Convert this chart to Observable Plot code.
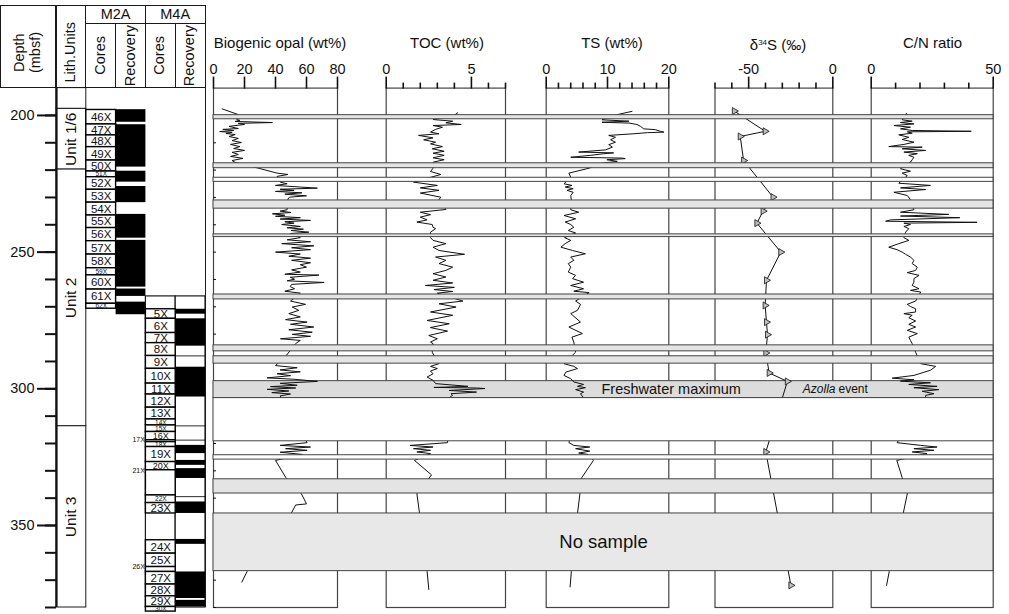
<!DOCTYPE html>
<html><head><meta charset="utf-8">
<script src="https://cdn.jsdelivr.net/npm/d3@7"></script>
<script src="https://cdn.jsdelivr.net/npm/@observablehq/plot@0.6"></script>
<style>
body{margin:0;background:#fff;font-family:"Liberation Sans",Arial,Helvetica,sans-serif;}
#chart{position:relative;width:1009px;height:614px;overflow:hidden;background:#fff;}
#chart svg{position:absolute;left:0;top:0;}
.ln{position:absolute;background:#1a1a1a;}
.hd{position:absolute;box-sizing:border-box;display:flex;align-items:center;justify-content:center;font-size:14.5px;color:#111;}
.vt{writing-mode:vertical-rl;transform:rotate(180deg);line-height:1.1;text-align:center;white-space:nowrap;}
.title{position:absolute;top:34px;line-height:17px;font-size:15px;white-space:nowrap;transform:translateX(-50%);color:#111;}
</style></head>
<body><div id="chart"></div>
<script>
// ---------------- DATA ----------------
const depthDomain = [190, 380];
const depthMajorTicks = [200, 250, 300, 350];
const depthMinorTicks = [200,210,220,230,240,250,260,270,280,290,300,310,320,330,340,350,360,370,380];

// Lithologic units
const unitNames   = ["", "Unit 1/6", "Unit 2", "Unit 3"];
const unitTops    = [190, 197.6, 219.8, 313.7];
const unitBottoms = [197.6, 219.8, 313.7, 380];

// Hole M2A
const m2aCores = ["46X","47X","48X","49X","50X","51X","52X","53X","54X","55X","56X","57X","58X","59X","60X","61X","62X"];
const m2aCoreTops    = [198.0,203.3,207.3,211.6,216.5,220.5,222.6,227.2,231.9,236.6,241.2,246.0,250.9,255.9,258.5,263.7,268.9];
const m2aCoreBottoms = [203.3,207.3,211.6,216.5,220.5,222.6,227.2,231.9,236.6,241.2,246.0,250.9,255.9,258.5,263.7,268.9,270.7];
const m2aRecTops    = [197.9,203.4,220.4,226.0,236.2,245.7,263.5,268.3];
const m2aRecBottoms = [202.5,218.9,224.4,231.9,244.9,262.8,266.2,272.9];

// Hole M4A
const m4aHoleTop = 266.2;
const m4aCores = ["5X","6X","7X","8X","9X","10X","11X","12X","13X","14X","15X","16X","17X","18X","19X","20X","21X","22X","23X","24X","25X","26X","27X","28X","29X","30X"];
const m4aCoreTops    = [270.9,274.4,279.6,283.3,288.0,292.7,298.1,302.1,306.9,311.2,313.4,315.8,318.8,319.5,321.3,326.8,329.8,339.0,341.8,355.4,360.3,365.2,367.0,371.6,375.9,379.8];
const m4aCoreBottoms = [274.4,279.6,283.3,288.0,292.7,298.1,302.1,306.9,311.2,313.4,315.8,318.8,319.5,321.3,326.8,329.8,339.0,341.8,345.6,360.3,365.2,367.0,371.6,375.9,379.8,381.5];
const sideLabelCores = ["17X","21X","26X"];
const m4aRecTops    = [270.9,274.4,288.0,292.1,313.6,318.8,320.7,326.2,329.2,339.5,341.4,355.1,367.0,377.4];
const m4aRecBottoms = [272.7,284.4,288.3,303.0,313.9,319.1,323.7,328.0,332.8,339.8,345.6,356.9,376.7,379.8];

// Biogenic opal (wt%)
const opalDepth = [197.6,199.7,
 201.5,201.8,202.2,202.6,202.9,203.3,204.0,204.8,205.1,205.5,205.9,206.2,206.6,207.0,207.7,208.4,209.2,209.9,210.6,211.4,212.1,212.8,213.5,214.3,215.0,215.7,216.5,217.2,
 219.3,221.1,221.6,222.3,
 224.4,225.0,225.6,226.2,226.6,227.0,227.4,227.8,228.3,228.8,229.4,229.9,230.6,
 234.5,235.0,235.5,236.0,236.5,236.9,237.4,237.9,238.4,238.9,239.4,239.9,240.6,241.1,241.6,242.1,242.7,243.2,
 244.7,245.5,246.2,246.9,247.7,248.4,249.1,250.0,250.7,251.5,252.2,253.0,253.9,254.6,255.5,256.5,257.3,258.1,258.4,259.2,259.9,260.5,261.1,261.8,262.6,263.4,264.3,265.0,
 267.9,269.1,270.1,271.3,272.5,273.7,274.7,275.6,276.4,277.4,278.4,279.3,280.1,280.8,281.7,282.3,283.5,
 287.8,
 291.5,292.3,293.1,293.8,294.5,295.2,296.0,296.5,297.3,298.0,298.7,299.2,299.7,300.2,300.8,301.4,301.9,302.6,
 319.7,320.7,321.3,321.9,322.5,323.2,324.0,
 326.2,332.5,
 338.4,342.1,342.5,345.7,
 366.8,370.7];
const opalValue = [5.6,16,
 15,17,14,38,16,20,10,16,6,13,4,12,8,14,10,16,12,18,11,17,13,20,12,16,11,19,12,14,
 29,41,48,41,
 43,47.5,40,56,67,43,52,40,57,46,60,49,48,
 47.5,43,50,38,46,40,56,43,62.6,46,52,44,56,47.5,58,50,61.5,49.5,
 56,47.5,62.6,44,64.7,50.4,62.6,40,56,48.6,62.6,50.4,62.6,56,60,50.4,56,46,68,49.5,52.3,47.5,71.4,50.4,49.5,52.3,46,56,
 49.7,59.4,50.8,55,48.6,56,46.5,60.4,49.7,64.7,48.6,63.7,50.8,62.6,43.2,56,52.9,
 47,
 40,54,43,56,41,49.7,34.6,52,67,43,54,36.8,53,34.6,48.6,37.6,49.7,43,
 60.4,43,62.6,46.5,60.4,43,57.3,
 40,46.7,
 56.7,60,53,50,
 21.7,18.3];

// TOC (wt%)
const tocDepth = [199.0,199.9,
 201.5,202.1,202.7,203.3,203.7,204.3,205.1,206.1,206.7,207.3,208.2,208.9,209.8,210.4,211.4,212.2,213.1,213.8,214.6,215.5,216.2,217.1,
 219.3,220.5,221.6,222.3,
 224.4,225.6,226.5,227.4,228.4,229.9,230.8,
 234.4,235.4,236.3,237.2,238.2,239.0,239.9,240.9,241.4,242.7,
 244.7,245.7,246.9,248.2,249.4,250.8,251.8,253.0,254.2,255.5,256.7,257.9,259.1,260.3,261.3,262.2,262.9,263.7,264.4,265.0,
 267.9,268.9,270.1,271.9,273.1,275.0,276.2,277.6,278.9,280.5,281.7,282.9,283.5,
 286.6,
 290.8,291.8,292.6,293.5,294.5,295.7,296.9,298.1,299.1,299.5,299.7,299.9,300.6,301.2,301.8,302.4,303.0,
 319.7,320.7,321.3,321.9,322.5,323.1,323.7,
 326.2,331.5,
 338.4,345.7,
 366.8,373.4];
const tocValue = [4.2,4.0,
 2.75,3.9,3.5,4.4,2.75,3.3,2.9,2.6,3.1,1.9,2.75,2.2,2.9,2.6,3.3,2.7,3.4,2.75,3.4,2.75,3.4,2.75,
 2.75,2.6,3.2,2.8,
 1.6,3.0,2.0,3.1,2.0,3.2,3.1,
 3.5,2.0,2.6,2.0,2.4,1.8,2.7,2.75,2.9,2.6,
 2.6,2.75,3.5,2.75,3.1,4.6,2.9,3.5,3.1,3.9,3.5,2.75,3.5,2.75,3.9,2.3,4.0,2.8,3.9,3.0,
 4.5,3.1,4.1,2.6,3.9,2.4,3.7,2.6,3.6,2.5,3.0,2.6,2.75,
 2.7,
 3.1,2.6,3.0,2.6,2.75,2.4,2.75,2.9,4.8,2.8,5.3,5.8,3.7,5.3,3.8,3.9,3.75,
 3.6,1.4,2.75,1.6,2.6,1.8,2.6,
 1.66,2.66,
 1.8,1.96,
 2.4,2.5];

// TS (wt%)
const tsDepth = [198.5,199.7,
 201.6,202.1,202.5,202.8,203.3,204.0,204.9,205.2,205.8,206.1,206.3,206.7,207.3,208.0,208.9,209.8,210.7,211.6,212.6,213.4,213.7,214.0,214.6,215.3,215.6,215.8,216.2,216.8,217.5,
 219.3,221.1,222.6,
 225.0,225.6,226.2,226.8,227.4,228.1,229.3,230.8,
 234.5,235.4,236.6,237.8,239.0,239.9,240.9,242.1,243.0,
 244.7,245.7,246.9,248.2,249.4,250.6,251.8,253.0,254.2,255.5,257.3,258.5,259.7,261.0,262.2,263.4,264.3,264.8,
 267.9,269.1,271.3,272.5,275.6,277.4,279.8,281.1,282.9,
 286.6,
 290.8,291.8,292.6,293.9,295.1,296.3,297.5,298.4,299.1,299.6,300.3,301.2,301.8,303.0,
 319.7,320.7,321.3,321.9,322.8,323.5,324.0,
 326.2,332.5,
 338.4,345.7,
 366.8,372.5];
const tsValue = [14.0,11.6,
 9.1,13.5,9.1,13.5,14.8,15.4,15.9,17.8,18.6,19.2,16.5,14.3,10.2,11.3,10.5,11.3,10.2,10.8,9.7,5.3,11.0,9.4,7.2,4.0,12.4,12.9,9.9,11.6,9.0,
 7.0,3.7,4.0,
 2.9,4.2,3.1,4.4,3.4,4.4,4.0,4.1,
 4.0,5.3,2.9,4.8,3.1,4.0,4.5,3.6,4.8,
 3.0,4.0,3.1,2.4,4.3,6.4,4.0,4.5,3.6,4.0,3.6,4.8,4.3,6.1,4.0,6.1,4.5,7.0,
 4.8,5.6,5.1,4.0,5.6,3.7,5.9,4.2,4.5,
 4.8,
 2.9,4.5,5.1,3.2,2.9,4.0,4.5,6.1,5.1,6.4,4.8,6.1,5.6,6.0,
 3.7,4.5,7.1,4.8,7.1,5.3,6.8,
 7.7,5.8,
 5.5,5.1,
 4.1,3.9];

// delta 34S (permil)
const d34sDepth = [198.4,205.8,207.7,216.5,229.9,235.0,239.4,250.0,260.3,269.5,275.6,280.2,286.9,294.2,297.3,323.1,371.9];
const d34sValue = [-58.5,-40.2,-55.0,-53.0,-35.5,-41.4,-45.1,-30.9,-39.4,-40.2,-39.4,-38.8,-39.8,-37.8,-27.0,-39.8,-24.9];

// C/N ratio
const cnDepth = [199.2,
 201.6,202.1,202.6,203.1,203.7,204.3,204.9,205.5,205.8,206.0,206.5,207.1,208.0,208.8,209.8,210.6,211.4,211.6,212.2,212.8,213.4,214.0,214.6,215.3,216.2,217.1,
 219.5,220.4,221.1,222.0,
 224.8,225.6,226.5,227.1,228.1,229.3,230.8,
 234.5,235.4,236.2,236.8,237.4,238.2,238.7,239.1,239.4,239.9,240.6,241.4,242.7,
 244.7,245.7,246.9,248.2,249.1,250.0,250.8,251.8,253.0,254.2,255.5,256.7,257.5,258.5,259.7,261.0,262.2,263.4,264.0,264.6,
 267.9,269.1,269.9,270.7,271.9,272.5,273.1,274.0,275.2,276.4,277.4,278.6,279.8,281.1,282.3,283.5,
 286.6,
 290.8,291.8,293.2,295.1,296.1,296.7,297.2,297.8,298.4,299.1,299.6,300.3,300.9,301.8,302.4,303.0,
 319.7,320.7,321.3,321.9,322.5,323.1,323.7,
 326.2,332.5,
 338.4,345.7,
 366.8,371.9];
const cnValue = [14.5,
 12.7,16.8,12.0,17.5,9.3,16.1,12.0,16.8,41.0,14.8,16.8,11.3,15.4,12.7,17.5,13.4,7.2,20.9,12.7,22.3,13.4,18.9,15.4,17.5,16.8,16.1,
 12.0,16.1,12.7,14.8,
 11.3,24.3,12.0,22.3,9.3,14.8,16.1,
 17.5,12.0,31.8,12.0,36.3,7.9,5.9,43.4,13.4,16.1,13.4,15.4,14.1,
 13.4,15.4,11.3,7.2,10.6,12.7,14.1,16.1,17.5,16.8,18.9,18.2,14.8,19.6,17.5,17.5,16.8,19.6,16.1,20.3,
 18.2,14.8,16.1,18.2,18.2,13.4,16.8,15.4,18.2,15.4,18.2,14.8,18.9,15.4,16.1,16.8,
 18.2,
 20.3,26.4,24.3,17.5,8.6,17.5,12.0,24.3,15.4,27.0,17.5,27.7,20.9,25.7,22.3,22.3,
 10.6,20.3,27.0,17.5,25.7,16.8,22.9,
 10.5,12.7,
 14.8,13.1,
 7.4,6.3];

// Core gaps / unsampled intervals across the data panels
const bandTops    = [199.9,217.5,222.8,231.1,243.5,265.5,284.1,288.1,303.4,324.3,333.1,345.6];
const bandBottoms = [201.4,219.3,224.3,234.1,244.5,267.3,286.3,290.8,319.2,325.9,338.3,366.7];
const bandKinds   = ["gap","gap","blank","gap","gap","gap","gap","gap","blank","blank","gap","nosample"];
const noSampleLabel = "No sample";
const freshwaterTop = 297.2, freshwaterBottom = 303.4;
const freshwaterLabel = "Freshwater maximum";
const azollaLabel = ["Azolla", "event"];

// Panel definitions
const panelIds = ["opal","toc","ts","d34s","cn"];
const panelTitles = {opal:"Biogenic opal (wt%)", toc:"TOC (wt%)", ts:"TS (wt%)", d34s:"δ<sup>34</sup>S (‰)", cn:"C/N ratio"};
const panelDomains = {opal:[0,80], toc:[0,7], ts:[0,20], d34s:[-70,0], cn:[0,50]};
const panelMajorTicks = {opal:[0,20,40,60,80], toc:[0,5], ts:[0,10,20], d34s:[-50,0], cn:[0,50]};
const panelMinorTicks = {opal:[], toc:[1,2,3,4,6,7], ts:[2,4,6,8,12,14,16,18], d34s:[-70,-60,-40,-30,-20,-10], cn:[10,20,30,40]};
const panelSeries = {
  opal:[opalDepth, opalValue], toc:[tocDepth, tocValue], ts:[tsDepth, tsValue],
  d34s:[d34sDepth, d34sValue], cn:[cnDepth, cnValue]
};

// ---------------- LAYOUT ----------------
const W = 1009, H = 614, TOP = 87.6, BOTTOM = 7;
const FONT = '"Liberation Sans", Arial, Helvetica, sans-serif';
const panelLeft  = {opal:213, toc:385.7, ts:545.7, d34s:714.5, cn:870.7};
const panelRight = {opal:337, toc:505, ts:668.3, d34s:832.3, cn:992.7};
const titleCenter = {opal:280, toc:447, ts:612, d34s:778, cn:932.5};
const dataLeft = 213, dataRight = 993;
const tableLeft = 56, tableRight = 205;

const chart = document.getElementById("chart");
const baseStyle = {background:"transparent", fontFamily: FONT, color:"#111", overflow:"visible"};
const yOpt = () => ({domain: depthDomain, reverse: true, axis: null});
const rowsOf = (tops, bottoms, names) => tops.map((t,i) => ({top:t, bottom:bottoms[i], name: names ? names[i] : ""}));

// ---- left table (depth axis, lithology, cores, recovery)
const col = {lith:0, m2aCores:1, m2aRec:2, m4aCores:3, m4aRec:4};
const unitRows = rowsOf(unitTops, unitBottoms, unitNames);
const m2aCoreRows = rowsOf(m2aCoreTops, m2aCoreBottoms, m2aCores);
const m2aRecRows = rowsOf(m2aRecTops, m2aRecBottoms);
const m4aCoreRows = rowsOf(m4aCoreTops, m4aCoreBottoms, m4aCores);
const m4aRecRows = rowsOf(m4aRecTops, m4aRecBottoms);
const m4aHole = [{top: m4aHoleTop, bottom: depthDomain[1]}];
const pxPerM = (H - TOP - BOTTOM) / (depthDomain[1] - depthDomain[0]);
const labelSize = d => { const h = (d.bottom - d.top) * pxPerM; return h < 8 ? 6.5 : h < 9.5 ? 9 : 11.5; };
const mid = d => (d.top + d.bottom) / 2;

const leftPlot = Plot.plot({
  width: W, height: H, marginLeft: tableLeft, marginRight: W - tableRight, marginTop: TOP, marginBottom: BOTTOM,
  style: baseStyle,
  x: {domain: [0, 5], axis: null},
  y: yOpt(),
  marks: [
    Plot.rect(unitRows, {x1: col.lith, x2: col.lith + 1, y1: "top", y2: "bottom", fill: "white", stroke: "#1a1a1a", strokeWidth: 1}),
    Plot.text(unitRows, {x: col.lith + 0.5, y: mid, text: "name", rotate: -90, fontSize: 15.5}),
    Plot.rect(m2aRecRows, {x1: col.m2aRec, x2: col.m2aRec + 1, y1: "top", y2: "bottom", fill: "black"}),
    Plot.rect(m2aCoreRows, {x1: col.m2aCores, x2: col.m2aCores + 1, y1: "top", y2: "bottom", fill: "white", stroke: "black", strokeWidth: 1.4}),
    Plot.text(m2aCoreRows, {x: col.m2aCores + 0.5, y: mid, text: "name", fontSize: labelSize}),
    Plot.rect(m4aHole, {x1: col.m4aCores, x2: col.m4aCores + 1, y1: "top", y2: "bottom", fill: "white", stroke: "#1a1a1a", strokeWidth: 1.2}),
    Plot.rect(m4aHole, {x1: col.m4aRec, x2: col.m4aRec + 1, y1: "top", y2: "bottom", fill: "white", stroke: "#1a1a1a", strokeWidth: 1.2}),
    Plot.rect(m4aRecRows, {x1: col.m4aRec, x2: col.m4aRec + 1, y1: "top", y2: "bottom", fill: "black"}),
    Plot.rect(m4aCoreRows, {x1: col.m4aCores, x2: col.m4aCores + 1, y1: "top", y2: "bottom", fill: "white", stroke: "black", strokeWidth: 1.4}),
    Plot.text(m4aCoreRows.filter(d => !sideLabelCores.includes(d.name)), {x: col.m4aCores + 0.5, y: mid, text: "name", fontSize: labelSize}),
    Plot.text(m4aCoreRows.filter(d => sideLabelCores.includes(d.name)), {x: col.m4aCores, y: "top", text: "name", textAnchor: "end", dx: -1, fontSize: 7}),
    Plot.ruleX([col.lith], {stroke: "#111", strokeWidth: 2.2}),
    Plot.ruleX([5], {stroke: "#1a1a1a", strokeWidth: 1}),
    Plot.axisY(depthMinorTicks, {anchor: "left", tickSize: 11, strokeWidth: 2, tickFormat: () => "", label: null}),
    Plot.axisY(depthMajorTicks, {anchor: "left", tickSize: 19, tickPadding: 3, strokeWidth: 2, fontSize: 14.5, tickFormat: d => String(d), label: null})
  ]
});
chart.appendChild(leftPlot);

// ---- panel frames and top axes
for (const id of panelIds) {
  const marks = [
    Plot.frame({stroke: "#444", strokeWidth: 1.2}),
    Plot.axisX(panelMajorTicks[id], {anchor: "top", tickSize: 12, tickPadding: 2, strokeWidth: 1.6, fontSize: 14.5, tickFormat: d => String(d), label: null})
  ];
  if (panelMinorTicks[id].length) marks.push(Plot.axisX(panelMinorTicks[id], {anchor: "top", tickSize: 6, strokeWidth: 1.6, tickFormat: () => "", label: null}));
  if (id === "opal") marks.push(Plot.axisY(depthMinorTicks, {anchor: "left", tickSize: -3, strokeWidth: 1, tickFormat: () => "", label: null}));
  chart.appendChild(Plot.plot({
    width: W, height: H, marginLeft: panelLeft[id], marginRight: W - panelRight[id], marginTop: TOP, marginBottom: BOTTOM,
    style: baseStyle, x: {domain: panelDomains[id], axis: null}, y: yOpt(), marks
  }));
}

// ---- freshwater maximum band (under the curves)
const fwMid = (freshwaterTop + freshwaterBottom) / 2;
chart.appendChild(Plot.plot({
  width: W, height: H, marginLeft: dataLeft, marginRight: W - dataRight, marginTop: TOP, marginBottom: BOTTOM,
  style: baseStyle, y: yOpt(),
  marks: [
    Plot.rect([{top: freshwaterTop, bottom: freshwaterBottom}], {y1: "top", y2: "bottom", fill: "#dcdcdc", stroke: "#444", strokeWidth: 1}),
    Plot.text([freshwaterLabel], {y: fwMid, text: d => d, frameAnchor: "middle", textAnchor: "start", dx: -2, fontSize: 14.5, fill: "#111"}),
    Plot.text([azollaLabel[0]], {y: fwMid, text: d => d, frameAnchor: "right", textAnchor: "end", dx: -158, fontSize: 12, fontStyle: "italic", fill: "#111"}),
    Plot.text([azollaLabel[1]], {y: fwMid, text: d => d, frameAnchor: "right", textAnchor: "start", dx: -155, fontSize: 12, fill: "#111"})
  ]
}));

// ---- curves
for (const id of panelIds) {
  const [dep, val] = panelSeries[id];
  const rows = dep.map((d, i) => ({depth: d, value: val[i]})).filter(d => d.value != null);
  const marks = [Plot.line(rows, {x: "value", y: "depth", stroke: "#111", strokeWidth: 1})];
  if (id === "d34s") marks.push(Plot.dot(rows, {x: "value", y: "depth", symbol: "triangle", rotate: 90, r: 2.6, fill: "#bdbdbd", stroke: "#111", strokeWidth: 0.8}));
  chart.appendChild(Plot.plot({
    width: W, height: H, marginLeft: panelLeft[id], marginRight: W - panelRight[id], marginTop: TOP, marginBottom: BOTTOM,
    style: baseStyle, x: {domain: panelDomains[id], axis: null}, y: yOpt(), marks
  }));
}

// ---- gap bands on top
const bandRows = bandTops.map((t, i) => ({top: t, bottom: bandBottoms[i], kind: bandKinds[i]}));
const ns = bandRows.find(d => d.kind === "nosample");
chart.appendChild(Plot.plot({
  width: W, height: H, marginLeft: dataLeft, marginRight: W - dataRight, marginTop: TOP, marginBottom: BOTTOM,
  style: baseStyle, y: yOpt(),
  marks: [
    Plot.rect(bandRows.filter(d => d.kind === "gap"), {y1: "top", y2: "bottom", fill: "#e4e4e4", stroke: "#444", strokeWidth: 1}),
    Plot.rect(bandRows.filter(d => d.kind === "blank"), {y1: "top", y2: "bottom", fill: "white", stroke: "#444", strokeWidth: 1}),
    Plot.rect(bandRows.filter(d => d.kind === "nosample"), {y1: "top", y2: "bottom", fill: "#e8e8e8", stroke: "#444", strokeWidth: 1}),
    Plot.text([noSampleLabel], {y: mid(ns), text: d => d, frameAnchor: "middle", fontSize: 18.5, fill: "#111"})
  ]
}));

// ---- header (HTML table cells aligned on the left plot's x scale)
const xs = leftPlot.scale("x");
const E = [0,1,2,3,4,5].map(i => xs.apply(i));
const HT = 5, HM = 23.3;
function line(x, y, w, h) { const d = document.createElement("div"); d.className = "ln"; Object.assign(d.style, {left: x + "px", top: y + "px", width: w + "px", height: h + "px"}); chart.appendChild(d); }
function cell(x0, y0, x1, y1, html, vertical, padTop) {
  const d = document.createElement("div"); d.className = "hd";
  Object.assign(d.style, {left: x0 + "px", top: y0 + "px", width: (x1 - x0) + "px", height: (y1 - y0) + "px", paddingTop: (padTop || 0) + "px"});
  d.innerHTML = vertical ? `<span class="vt">${html}</span>` : html;
  chart.appendChild(d);
}
line(0, HT, E[5] + 0.5, 1);
line(0, TOP - 0.5, E[5] + 0.5, 1);
line(E[1], HM, E[5] - E[1], 1);
line(0, HT, 1, TOP - HT);
line(E[1] - 0.5, HT, 1, TOP - HT);
line(E[2] - 0.5, HM, 1, TOP - HM);
line(E[3] - 0.5, HT, 1, TOP - HT);
line(E[4] - 0.5, HM, 1, TOP - HM);
line(E[5] - 0.5, HT, 1, TOP - HT);
line(E[0] - 1, HT, 2, TOP - HT);
cell(0, HT, E[0], TOP, "Depth<br>(mbsf)", true, 12);
cell(E[0], HT, E[1], TOP, "Lith.Units", true, 12);
cell(E[1], HT, E[3], HM, "M2A", false);
cell(E[3], HT, E[5], HM, "M4A", false);
cell(E[1], HM, E[2], TOP, "Cores", true);
cell(E[2], HM, E[3], TOP, "Recovery", true);
cell(E[3], HM, E[4], TOP, "Cores", true);
cell(E[4], HM, E[5], TOP, "Recovery", true);

// ---- panel titles
for (const id of panelIds) {
  const t = document.createElement("div"); t.className = "title";
  t.style.left = titleCenter[id] + "px";
  t.innerHTML = panelTitles[id].replace("<sup>", '<sup style="font-size:8px;vertical-align:5px">');
  chart.appendChild(t);
}
</script></body></html>
